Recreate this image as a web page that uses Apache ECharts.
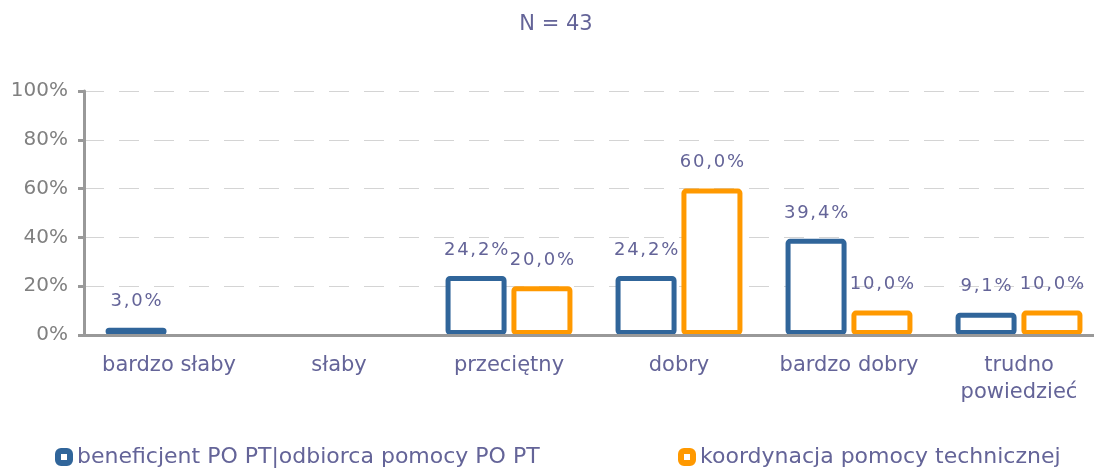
<!DOCTYPE html>
<html>
<head>
<meta charset="utf-8">
<script src="https://cdn.jsdelivr.net/npm/echarts@6/dist/echarts.min.js"></script>
<style>
  html, body { margin: 0; padding: 0; background: #fff; }
  #chart { width: 1094px; height: 468px; }
</style>
</head>
<body>
<div id="chart"></div>
<script>
const categories = ['bardzo słaby', 'słaby', 'przeciętny', 'dobry', 'bardzo dobry', 'trudno\npowiedzieć']
const beneficjent = [3.0, null, 24.2, 24.2, 39.4, 9.1]
const koordynacja = [null, null, 20.0, 60.0, 10.0, 10.0]
const seriesNames = ['beneficjent PO PT|odbiorca pomocy PO PT', 'koordynacja pomocy technicznej']
const yTicks = [0, 20, 40, 60, 80, 100]

const FONT = 'DejaVu Sans'
const TEXT = '#646498'

// spread the label characters a bit, like the original
const spaced = v => v.toFixed(1).replace('.', ',').concat('%').split('').join('\u200A')

const barSeries = (name, data, color) => ({
  name: name,
  type: 'bar',
  data: data,
  barWidth: 61,
  barGap: '8%',
  itemStyle: {
    color: '#fff',
    borderColor: color,
    borderWidth: 5,
    borderRadius: 2
  },
  label: {
    show: true,
    position: 'top',
    distance: 17,
    color: TEXT,
    fontFamily: FONT,
    fontSize: 18,
    formatter: p => spaced(p.value)
  }
})

const chart = echarts.init(document.getElementById('chart'))
chart.setOption({
  animation: false,
  title: {
    text: 'N = 43',
    left: 551,
    top: 9,
    textAlign: 'center',
    textStyle: { color: TEXT, fontFamily: FONT, fontSize: 21, fontWeight: 'normal' }
  },
  legend: [
    {
      data: [seriesNames[0]],
      left: 50, top: 441,
      itemWidth: 12, itemHeight: 12,
      itemStyle: { borderWidth: 6 },
      textStyle: { color: TEXT, fontFamily: FONT, fontSize: 22, padding: [0, 0, 0, 2] }
    },
    {
      data: [seriesNames[1]],
      left: 673, top: 441,
      itemWidth: 12, itemHeight: 12,
      itemStyle: { borderWidth: 6 },
      textStyle: { color: TEXT, fontFamily: FONT, fontSize: 22, padding: [0, 0, 0, 2] }
    }
  ],
  grid: { left: 84, right: -10, top: 91, bottom: 133, outerBoundsMode: 'none' },
  xAxis: {
    type: 'category',
    data: categories,
    z: 3,
    axisLine: { lineStyle: { color: '#999', width: 3 } },
    axisTick: { interval: 0, length: 6, lineStyle: { color: '#999', width: 3 } },
    axisLabel: { interval: 0, color: TEXT, fontFamily: FONT, fontSize: 21, margin: 17, lineHeight: 27 }
  },
  yAxis: {
    type: 'value',
    min: yTicks[0],
    max: yTicks[yTicks.length - 1],
    interval: 20,
    axisLine: { show: true, lineStyle: { color: '#999', width: 3 } },
    axisTick: { show: true, length: 6, lineStyle: { color: '#999', width: 3 } },
    axisLabel: { color: '#808080', fontFamily: FONT, fontSize: 20, margin: 16, formatter: '{value}%' },
    splitLine: { lineStyle: { color: '#d4d4d4', width: 1, type: [20, 15] } }
  },
  series: [
    barSeries(seriesNames[0], beneficjent, '#30659a'),
    barSeries(seriesNames[1], koordynacja, '#ff9900')
  ]
})
</script>
</body>
</html>
